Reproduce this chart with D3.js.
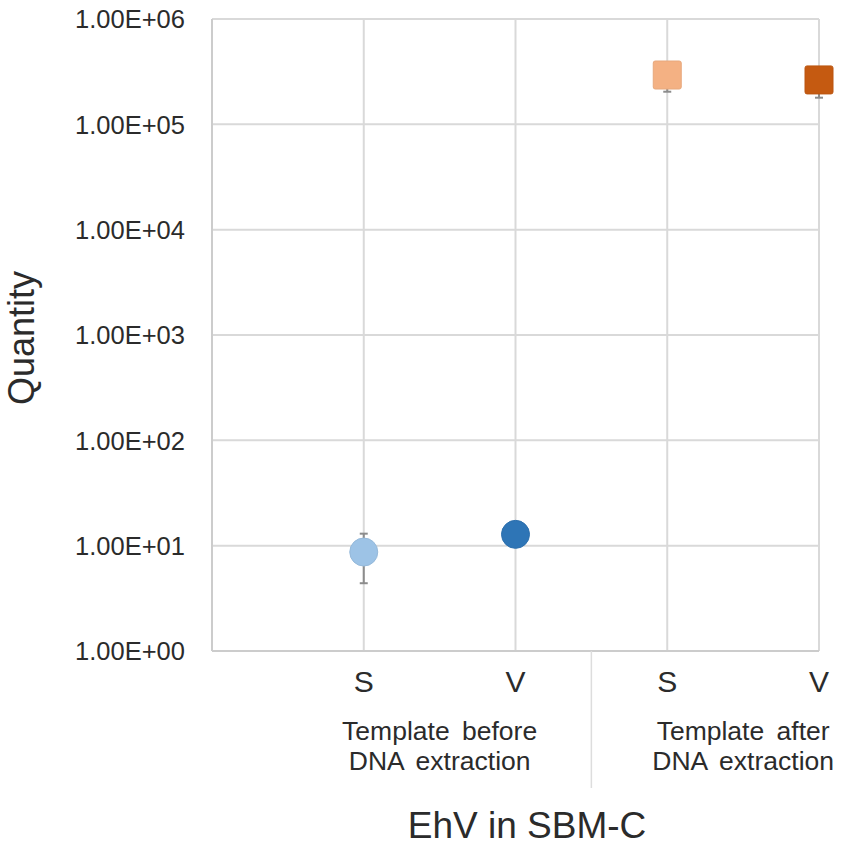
<!DOCTYPE html>
<html>
<head>
<meta charset="utf-8">
<script src="https://cdn.jsdelivr.net/npm/d3@7"></script>
<style>
  html, body { margin: 0; padding: 0; background: #fff; }
  svg { display: block; font-family: "Liberation Sans", Arial, sans-serif; }
</style>
</head>
<body>
<svg id="chart" width="851" height="848"></svg>
<script>
// ---- data ----
const categories = ["S", "V", "S", "V"];
const groups = ["Template before|DNA extraction", "Template after|DNA extraction"];
const groupOf = [0, 0, 1, 1];
const values = [8.7, 12.8, 294000, 264000];
const errors = [4.3, 1.5, 90000, 85000];
const markerShapes = ["circle", "circle", "square", "square"];
const colors = ["#9DC3E6", "#2E75B6", "#F4B183", "#C55A11"];
const yTicks = [1, 10, 100, 1000, 10000, 100000, 1000000];
const yLabel = "Quantity";
const xLabel = "EhV in SBM-C";

// ---- layout ----
const svg = d3.select("#chart");
const pLeft = 212, pRight = 819, pTop = 19, pBottom = 651;
const textColor = "#2b2b2b";

const x = d3.scaleLinear().domain([0, 4]).range([pLeft, pRight]);
const y = d3.scaleLog().domain([1, 1e6]).range([pBottom, pTop]);

const tickFmt = v => {
  const e = Math.round(Math.log10(v));
  return "1.00E+" + (e < 10 ? "0" + e : e);
};

// horizontal gridlines
svg.append("g").selectAll("line").data(yTicks).join("line")
  .attr("x1", pLeft).attr("x2", pRight)
  .attr("y1", d => y(d)).attr("y2", d => y(d))
  .attr("stroke", "#d9d9d9").attr("stroke-width", 2);

// vertical gridlines at categories
svg.append("g").selectAll("line").data(categories).join("line")
  .attr("x1", (d, i) => x(i + 1)).attr("x2", (d, i) => x(i + 1))
  .attr("y1", pTop).attr("y2", pBottom)
  .attr("stroke", "#d9d9d9").attr("stroke-width", 2);

// axes lines
svg.append("line").attr("x1", pLeft).attr("x2", pLeft).attr("y1", pTop).attr("y2", pBottom)
  .attr("stroke", "#cccccc").attr("stroke-width", 2);
svg.append("line").attr("x1", pLeft).attr("x2", pRight).attr("y1", pBottom).attr("y2", pBottom)
  .attr("stroke", "#cccccc").attr("stroke-width", 2);

// group separator
svg.append("line").attr("x1", x(2.5)).attr("x2", x(2.5)).attr("y1", pBottom).attr("y2", 788)
  .attr("stroke", "#dddddd").attr("stroke-width", 1.5);

// y tick labels
svg.append("g").selectAll("text").data(yTicks).join("text")
  .attr("x", 185).attr("y", d => y(d)).attr("dy", "0.36em")
  .attr("text-anchor", "end").attr("font-size", 25.5).attr("fill", textColor)
  .text(tickFmt);

// category labels
svg.append("g").selectAll("text").data(categories).join("text")
  .attr("x", (d, i) => x(i + 1)).attr("y", 692)
  .attr("text-anchor", "middle").attr("font-size", 30).attr("fill", textColor)
  .text(d => d);

// group labels (two lines each)
groups.forEach((g, gi) => {
  const idx = groupOf.map((v, i) => v === gi ? i + 1 : null).filter(v => v !== null);
  const cx = x(d3.mean(idx));
  g.split("|").forEach((ln, li) => {
    svg.append("text").attr("x", cx).attr("y", 740 + li * 30)
      .attr("text-anchor", "middle").attr("font-size", 26.5)
      .attr("fill", textColor).attr("word-spacing", 5).text(ln);
  });
});

// axis titles
svg.append("text").attr("x", 527).attr("y", 838).attr("text-anchor", "middle")
  .attr("font-size", 37).attr("fill", textColor).text(xLabel);
svg.append("text").attr("transform", "translate(34,338) rotate(-90)")
  .attr("text-anchor", "middle").attr("font-size", 36).attr("fill", textColor).text(yLabel);

// error bars
const eb = svg.append("g").attr("stroke", "#8c8c8c").attr("stroke-width", 2);
values.forEach((v, i) => {
  const cx = x(i + 1);
  const lo = Math.max(v - errors[i], 1), hi = v + errors[i];
  eb.append("line").attr("x1", cx).attr("x2", cx).attr("y1", y(lo)).attr("y2", y(hi));
  eb.append("line").attr("x1", cx - 4).attr("x2", cx + 4).attr("y1", y(lo)).attr("y2", y(lo));
  eb.append("line").attr("x1", cx - 4).attr("x2", cx + 4).attr("y1", y(hi)).attr("y2", y(hi));
});

// markers
const mk = svg.append("g");
values.forEach((v, i) => {
  const cx = x(i + 1), cy = y(v);
  if (markerShapes[i] === "circle") {
    mk.append("circle").attr("cx", cx).attr("cy", cy).attr("r", 14)
      .attr("fill", colors[i]).attr("stroke", d3.color(colors[i]).darker(0.15)).attr("stroke-width", 1);
  } else {
    mk.append("rect").attr("x", cx - 14).attr("y", cy - 14).attr("width", 28).attr("height", 28)
      .attr("rx", 2).attr("fill", colors[i]).attr("stroke", d3.color(colors[i]).darker(0.15)).attr("stroke-width", 1);
  }
});
</script>
</body>
</html>
